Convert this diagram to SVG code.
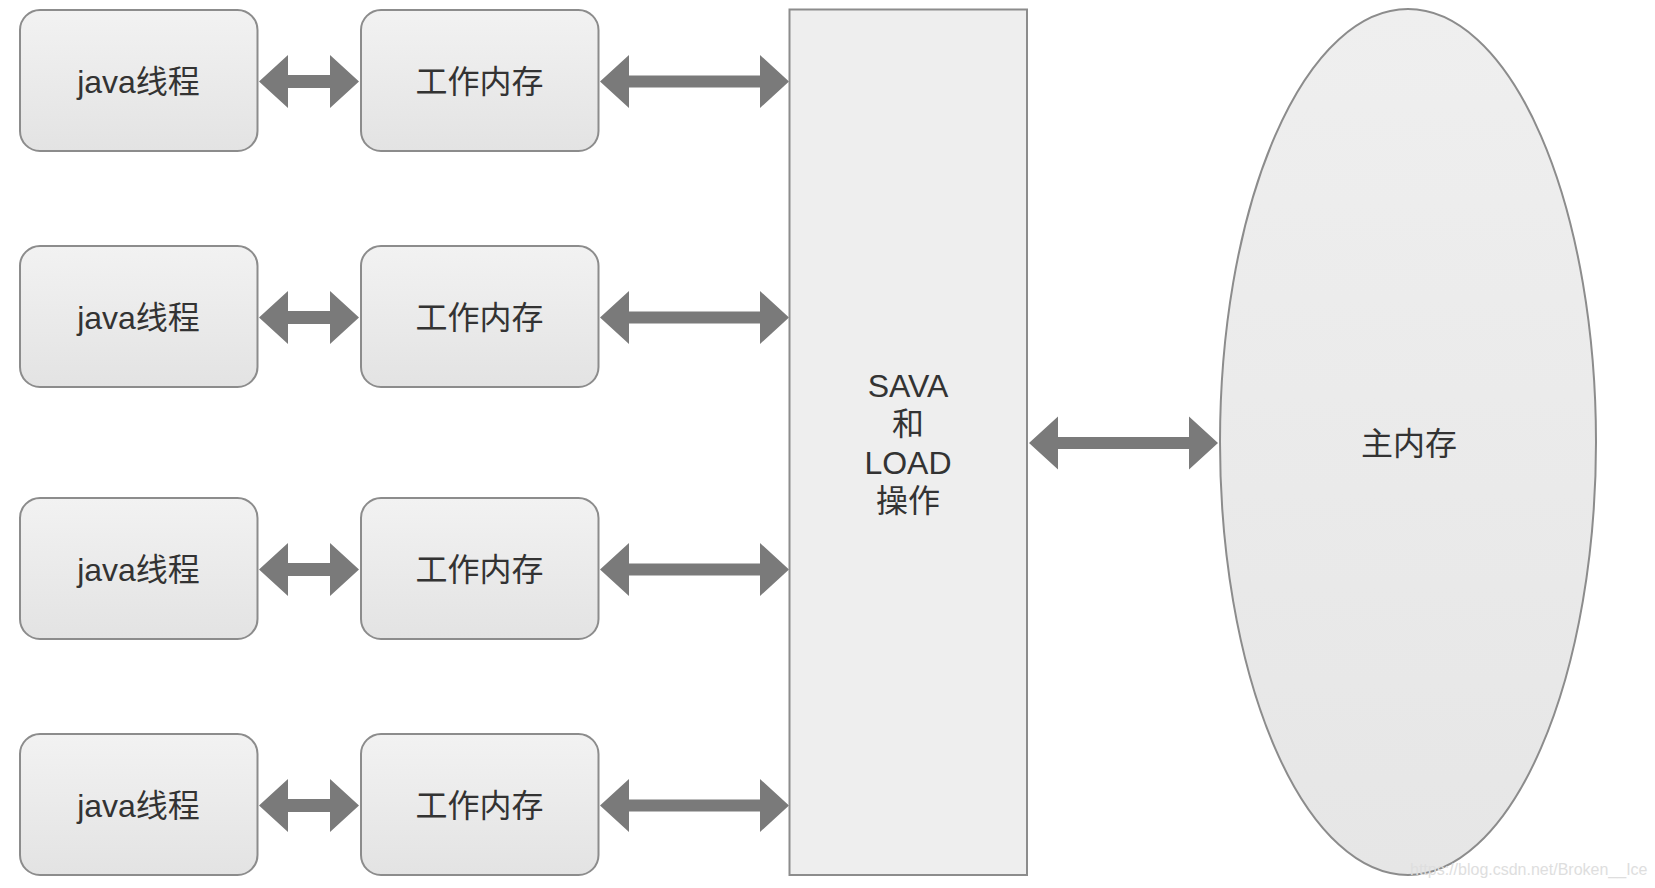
<svg xmlns="http://www.w3.org/2000/svg" xmlns:xlink="http://www.w3.org/1999/xlink" width="1655" height="888" viewBox="0 0 1655 888">
<style>
.box{fill:url(#g);stroke:#8c8c8c;stroke-width:2}
.lbl{font-family:"Liberation Sans","Noto Sans CJK SC",sans-serif;font-size:32px;fill:#333;text-anchor:middle}
.arr{fill:#7a7a7a}
.wm{font-family:"Liberation Sans",Arial,sans-serif;font-size:16px;fill:#dedede}
</style>
<defs>
<linearGradient id="g" x1="0" y1="0" x2="0" y2="1">
<stop offset="0" stop-color="#f2f2f2"/>
<stop offset="1" stop-color="#e3e3e3"/>
</linearGradient>
<linearGradient id="ge" x1="0" y1="0" x2="0" y2="1">
<stop offset="0" stop-color="#efefef"/>
<stop offset="1" stop-color="#e6e6e6"/>
</linearGradient>
<path id="aS" d="M0,0 L29,-26.5 L29,-6.5 L71,-6.5 L71,-26.5 L100,0 L71,26.5 L71,6.5 L29,6.5 L29,26.5 Z"/>
<path id="aL" d="M0,0 L29,-26.5 L29,-6 L160,-6 L160,-26.5 L189,0 L160,26.5 L160,6 L29,6 L29,26.5 Z"/>
</defs>
<rect width="1655" height="888" fill="#fff"/>

<g id="connectors" class="arr">
<use xlink:href="#aS" x="259" y="81.5"/>
<use xlink:href="#aL" x="600" y="81.5"/>
<use xlink:href="#aS" x="259" y="317.5"/>
<use xlink:href="#aL" x="600" y="317.5"/>
<use xlink:href="#aS" x="259" y="569.5"/>
<use xlink:href="#aL" x="600" y="569.5"/>
<use xlink:href="#aS" x="259" y="805.5"/>
<use xlink:href="#aL" x="600" y="805.5"/>
<use xlink:href="#aL" x="1029" y="443"/>
</g>

<g id="thread1"><rect class="box" x="20" y="10" width="237.5" height="141" rx="20"/><text class="lbl" x="138.5" y="92.5">java线程</text></g>
<g id="mem1"><rect class="box" x="361" y="10" width="237.5" height="141" rx="20"/><text class="lbl" x="479.5" y="92.5">工作内存</text></g>
<g id="thread2"><rect class="box" x="20" y="246" width="237.5" height="141" rx="20"/><text class="lbl" x="138.5" y="328.5">java线程</text></g>
<g id="mem2"><rect class="box" x="361" y="246" width="237.5" height="141" rx="20"/><text class="lbl" x="479.5" y="328.5">工作内存</text></g>
<g id="thread3"><rect class="box" x="20" y="498" width="237.5" height="141" rx="20"/><text class="lbl" x="138.5" y="580.5">java线程</text></g>
<g id="mem3"><rect class="box" x="361" y="498" width="237.5" height="141" rx="20"/><text class="lbl" x="479.5" y="580.5">工作内存</text></g>
<g id="thread4"><rect class="box" x="20" y="734" width="237.5" height="141" rx="20"/><text class="lbl" x="138.5" y="816.5">java线程</text></g>
<g id="mem4"><rect class="box" x="361" y="734" width="237.5" height="141" rx="20"/><text class="lbl" x="479.5" y="816.5">工作内存</text></g>

<g id="saveload">
<rect x="789.5" y="9.5" width="237.5" height="865.5" fill="#eeeeee" stroke="#8c8c8c" stroke-width="2"/>
<text class="lbl" x="908" y="397">SAVA</text>
<text class="lbl" x="908" y="435">和</text>
<text class="lbl" x="908" y="474">LOAD</text>
<text class="lbl" x="908" y="512">操作</text>
</g>

<g id="mainmem">
<ellipse cx="1408" cy="442" rx="188" ry="433" fill="url(#ge)" stroke="#8c8c8c" stroke-width="2"/>
<text class="lbl" x="1409" y="454.5">主内存</text>
</g>

<text class="wm" x="1410" y="875">https://blog.csdn.net/Broken__Ice</text>
</svg>
